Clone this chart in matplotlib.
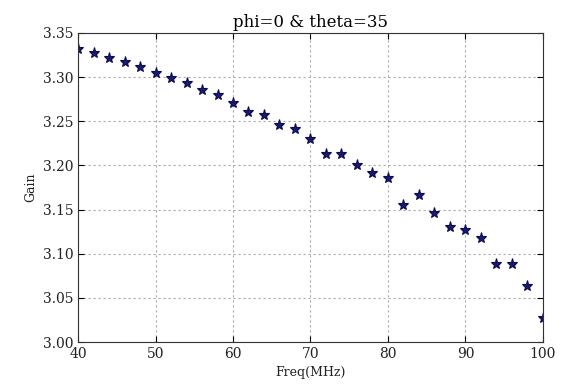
import matplotlib
matplotlib.use("Agg")
import matplotlib.pyplot as plt

freq = [40, 42, 44, 46, 48, 50, 52, 54, 56, 58, 60, 62, 64, 66, 68, 70,
        72, 74, 76, 78, 80, 82, 84, 86, 88, 90, 92, 94, 96, 98, 100]
gain = [3.332, 3.327, 3.322, 3.317, 3.311, 3.305, 3.299, 3.293, 3.285, 3.280,
        3.271, 3.261, 3.257, 3.246, 3.241, 3.230, 3.213, 3.213, 3.200, 3.191,
        3.186, 3.155, 3.166, 3.146, 3.130, 3.127, 3.118, 3.088, 3.088, 3.063,
        3.027]

plt.rcParams['font.family'] = 'DejaVu Serif'

fig = plt.figure(figsize=(5.67, 3.89), dpi=100)
ax = fig.add_axes([0.1376, 0.1208, 0.82, 0.7944])
ax.plot(freq, gain, '*', color='#1a1a70', markersize=8, markeredgecolor='#0c0c50',
        markeredgewidth=0.8)
ax.set_xlim(40, 100)
ax.set_ylim(3.00, 3.35)
ax.set_xticks(range(40, 101, 10))
ax.set_yticks([3.00, 3.05, 3.10, 3.15, 3.20, 3.25, 3.30, 3.35])
ax.tick_params(direction='in', top=True, right=True, labelsize=10, length=4,
               labelcolor='#222222')
ax.grid(True, linestyle=(0, (2, 2.5)), color='#aaaaaa', linewidth=0.8)
for s in ax.spines.values():
    s.set_color('#333333')
ax.set_title('phi=0 & theta=35', fontsize=12, pad=4)
ax.set_xlabel('Freq(MHz)', fontsize=9, color='#222222')
ax.set_ylabel('Gain', fontsize=9, color='#222222')
fig.savefig('out.png', dpi=100)
